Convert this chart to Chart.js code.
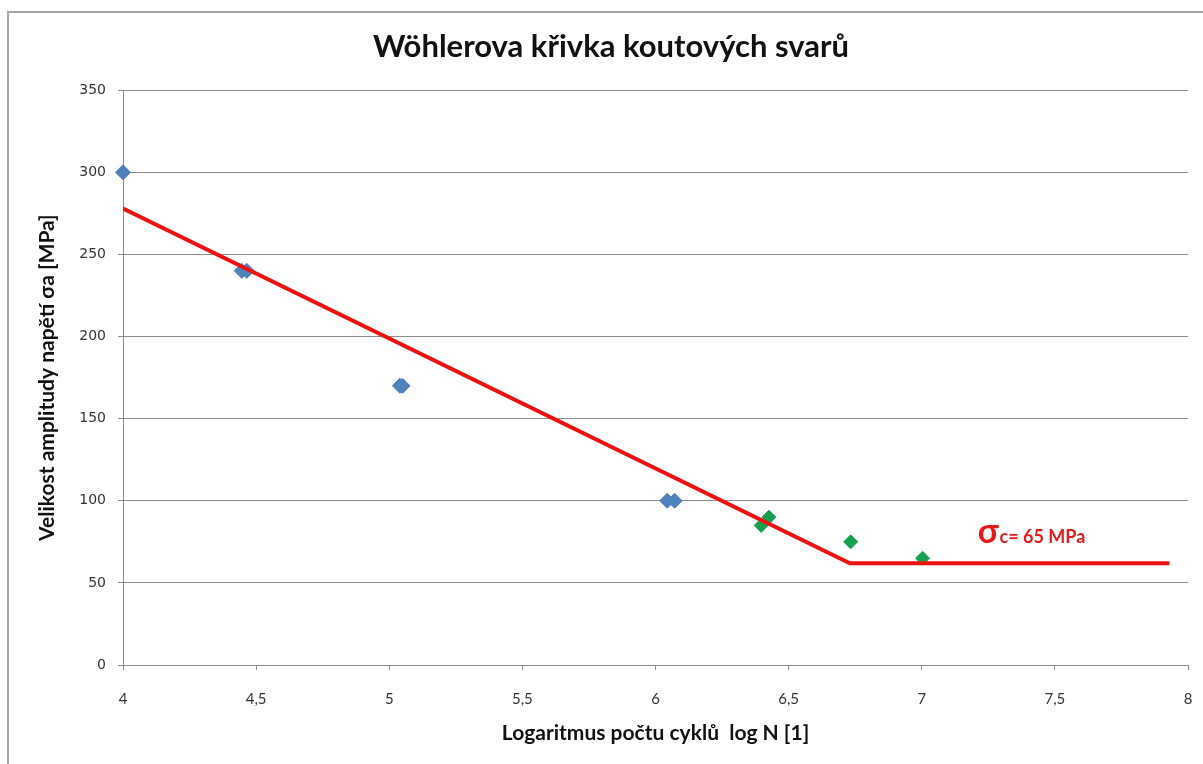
<!DOCTYPE html>
<html>
<head>
<meta charset="utf-8">
<script src="https://cdn.jsdelivr.net/npm/chart.js@4/dist/chart.umd.min.js"></script>
<style>
  html, body { margin: 0; padding: 0; background: #fff; overflow: hidden; }
  #wrap { position: relative; width: 1203px; height: 764px; }
  #frame { position: absolute; left: 7px; top: 11px; width: 1300px; height: 900px;
           border: 2px solid #a6a6a6; pointer-events: none; }
  canvas { position: absolute; left: 0; top: 0; }
</style>
</head>
<body>
<div id="wrap">
  <canvas id="chart" width="1203" height="764"></canvas>
  <div id="frame"></div>
</div>
<script>
// measured points (log N, stress amplitude in MPa)
const blueX = [4.0, 4.446, 4.465, 5.04, 5.05, 6.044, 6.072];
const blueY = [300, 240, 240, 170, 170, 100, 100];
const greenX = [6.397, 6.426, 6.733, 7.003];
const greenY = [85, 90, 75, 65];
// fitted Wöhler line with fatigue limit
const lineX = [4.0, 6.73, 7.93];
const lineY = [278, 62, 62];

const xTickLabels = ['4', '4,5', '5', '5,5', '6', '6,5', '7', '7,5', '8'];
const yTickLabels = ['0', '50', '100', '150', '200', '250', '300', '350'];

const limitLabel = { x: 7.21, y: 74, sigma: 'σ', sub: 'c', text: '= 65 MPa' };

const zip = (xs, ys) => xs.map((x, i) => ({ x: x, y: ys[i] }));

// draws the sigma_c label next to the horizontal part
const limitPlugin = {
    id: 'limitLabel',
    afterDatasetsDraw(chart) {
        const c = chart.ctx;
        const px = chart.scales.x.getPixelForValue(limitLabel.x);
        const py = chart.scales.y.getPixelForValue(limitLabel.y);
        c.save();
        c.fillStyle = '#e41a1a';
        c.textBaseline = 'alphabetic';
        c.textAlign = 'left';
        c.font = 'bold 34px Lato';
        c.fillText(limitLabel.sigma, px, py);
        let w = c.measureText(limitLabel.sigma).width;
        c.font = 'bold 18px Lato';
        c.fillText(limitLabel.sub, px + w + 1, py);
        w += c.measureText(limitLabel.sub).width + 1;
        c.fillText(limitLabel.text, px + w, py);
        c.restore();
    }
};

const ctx = document.getElementById('chart').getContext('2d');

const chart = new Chart(ctx, {
    type: 'scatter',
    data: {
        datasets: [{
            label: 'body 1',
            data: zip(blueX, blueY),
            backgroundColor: '#4f81bd',
            borderColor: '#4f81bd',
            pointStyle: 'rectRot',
            pointRadius: 7.5,
            pointHoverRadius: 7.5,
            clip: false
        }, {
            label: 'body 2',
            data: zip(greenX, greenY),
            backgroundColor: '#16a050',
            borderColor: '#16a050',
            pointStyle: 'rectRot',
            pointRadius: 7,
            pointHoverRadius: 7,
            clip: false
        }, {
            label: 'Wöhlerova křivka',
            data: zip(lineX, lineY),
            showLine: true,
            borderColor: '#ee1111',
            borderWidth: 4,
            pointRadius: 0,
            fill: false,
            order: -1
        }]
    },
    options: {
        responsive: false,
        animation: false,
        layout: { padding: { left: 34, right: 15, top: 0, bottom: 0 } },
        plugins: {
            legend: { display: false },
            tooltip: { enabled: false },
            title: {
                display: true,
                text: 'Wöhlerova křivka koutových svarů',
                color: '#111',
                font: { family: 'Lato', size: 31, weight: 'bold' },
                padding: { top: 28, bottom: 25 }
            }
        },
        scales: {
            x: {
                type: 'linear',
                min: 4,
                max: 8,
                afterFit: (s) => {
                    s.height = 99;
                    s.paddingLeft = 0;
                    s.paddingRight = 5;
                },
                ticks: {
                    stepSize: 0.5,
                    color: '#333',
                    padding: 20,
                    font: { family: 'Lato', size: 15 },
                    maxRotation: 0,
                    callback: (v, i) => xTickLabels[i]
                },
                grid: { drawOnChartArea: false, drawTicks: true, tickLength: 5, color: '#8c8c8c' },
                border: { color: '#8c8c8c', width: 1 },
                title: {
                    display: true,
                    text: 'Logaritmus počtu cyklů  log N [1]',
                    color: '#111',
                    font: { family: 'Lato', size: 21, weight: 'bold' },
                    padding: { top: 0, bottom: 18 }
                }
            },
            y: {
                min: 0,
                max: 350,
                afterFit: (s) => { s.width = 89; },
                ticks: {
                    stepSize: 50,
                    color: '#333',
                    padding: 12,
                    font: { family: 'DejaVu Sans', size: 14 },
                    callback: (v, i) => yTickLabels[i]
                },
                grid: { color: '#8c8c8c', tickLength: 5 },
                border: { color: '#8c8c8c', width: 1 },
                title: {
                    display: true,
                    text: 'Velikost amplitudy napětí σa [MPa]',
                    color: '#111',
                    font: { family: 'Lato', size: 21, weight: 'bold' },
                    padding: { top: 1, bottom: 0 }
                }
            }
        }
    },
    plugins: [limitPlugin]
});
</script>
</body>
</html>
